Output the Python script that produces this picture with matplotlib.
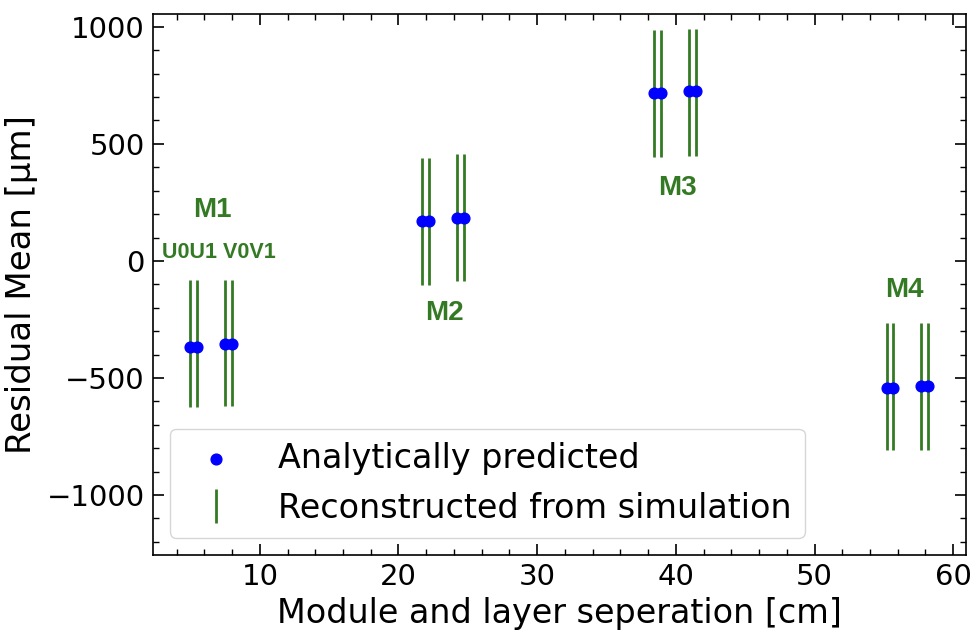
import matplotlib
matplotlib.use("Agg")
import matplotlib.pyplot as plt
from matplotlib.ticker import MultipleLocator

# Data
x_pos = [4.96, 5.48, 7.48, 8.00,
         21.67, 22.20, 24.19, 24.72,
         38.46, 38.90, 40.98, 41.46,
         55.22, 55.65, 57.67, 58.17]
analytic = [-368, -368, -355, -355,
            171, 171, 185, 185,
            717, 717, 726, 726,
            -541, -541, -534, -534]
recon_mean = [-353, -353, -352, -352,
              168, 168, 185, 185,
              717, 717, 721, 721,
              -537, -537, -537, -537]
recon_err = [270, 270, 270, 270,
             271, 271, 271, 271,
             271, 271, 271, 271,
             271, 271, 271, 271]

module_labels = ["M1", "M2", "M3", "M4"]
module_label_x = [6.6, 23.3, 40.1, 56.5]
module_label_y = [218, -222, 312, -124]
layer_label = "U0U1 V0V1"
layer_label_x = 7.05
layer_label_y = 34

green = "#347a24"

fig = plt.figure(figsize=(9.74, 6.37), dpi=100)
ax = fig.add_axes([0.157, 0.129, 0.835, 0.849])

ax.scatter(x_pos, analytic, s=60, color="blue", zorder=3, label="Analytically predicted")
ax.errorbar(x_pos, recon_mean, yerr=recon_err, fmt="none", ecolor=green,
            elinewidth=2.0, label="Reconstructed from simulation", zorder=2)

for lab, lx, ly in zip(module_labels, module_label_x, module_label_y):
    ax.text(lx, ly, lab, color=green, fontsize=20, fontweight="bold",
            family="Liberation Sans", ha="center", va="center")
ax.text(layer_label_x, layer_label_y, layer_label, color=green, fontsize=15.5,
        fontweight="bold", family="Liberation Sans", ha="center", va="center")

ax.set_xlim(2.29, 60.94)
ax.set_ylim(-1256, 1055)
ax.xaxis.set_major_locator(MultipleLocator(10))
ax.xaxis.set_minor_locator(MultipleLocator(2))
ax.yaxis.set_major_locator(MultipleLocator(500))
ax.yaxis.set_minor_locator(MultipleLocator(100))
ax.tick_params(which="both", direction="in", top=True, right=True, labelsize=21)
ax.tick_params(which="major", length=8, width=1.2, pad=6)
ax.tick_params(which="minor", length=4, width=1.0)
for sp in ax.spines.values():
    sp.set_linewidth(1.2)

ax.set_xlabel("Module and layer seperation [cm]", fontsize=24, labelpad=4)
ax.set_ylabel("Residual Mean [µm]", fontsize=24.5, labelpad=6)

leg = ax.legend(loc="lower left", fontsize=24, frameon=True, fancybox=True,
                borderaxespad=0.5, handletextpad=0.85)
leg.get_frame().set_edgecolor("#cccccc")

fig.savefig("out.png", dpi=100)
